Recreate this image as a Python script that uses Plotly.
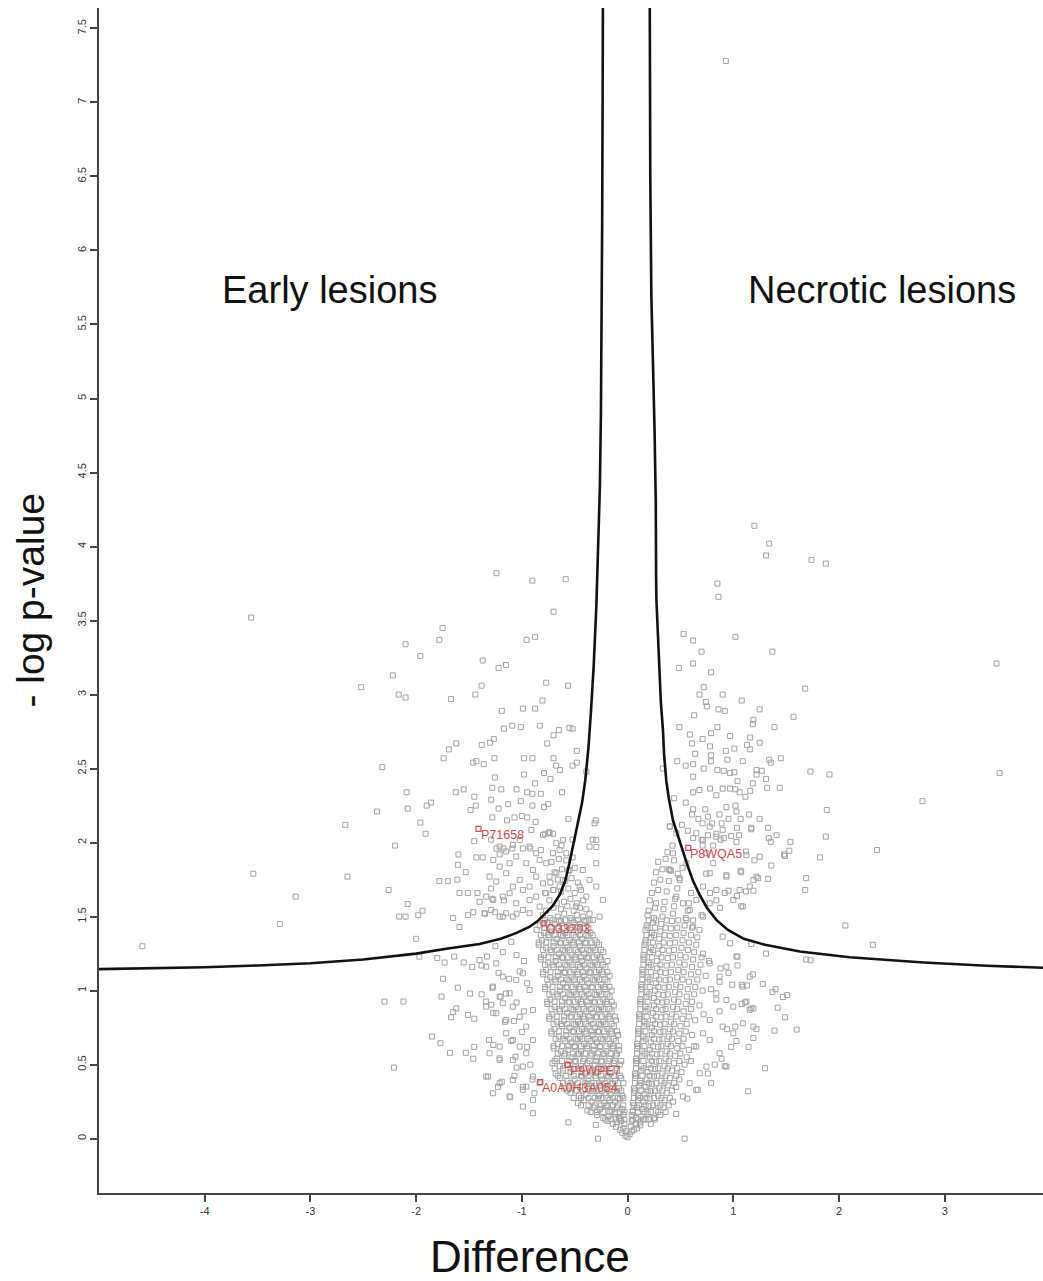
import plotly.graph_objects as go

# ---------------- threshold curves ----------------
curve_left_x = [-5.0, -4.5, -4.0, -3.5, -3.0, -2.5, -2.0, -1.7, -1.4, -1.2, -1.05, -0.93, -0.85,
                -0.78, -0.71, -0.64, -0.59, -0.55, -0.51, -0.47, -0.43, -0.40, -0.37, -0.345,
                -0.32, -0.295, -0.275, -0.262, -0.252, -0.245, -0.240, -0.236, -0.233]
curve_left_y = [1.145, 1.15, 1.158, 1.17, 1.185, 1.21, 1.25, 1.285, 1.315, 1.35, 1.39, 1.43, 1.47,
                1.52, 1.57, 1.65, 1.74, 1.86, 1.99, 2.12, 2.27, 2.42, 2.64, 2.9,
                3.2, 3.6, 4.0, 4.4, 4.9, 5.5, 6.2, 7.0, 7.7]
curve_right_x = [3.93, 3.4, 2.8, 2.1, 1.63, 1.3, 1.1, 0.95, 0.84, 0.75, 0.68, 0.62, 0.57, 0.53,
                 0.48, 0.43, 0.39, 0.366, 0.345, 0.335, 0.315, 0.305, 0.285, 0.273, 0.27,
                 0.267, 0.255, 0.24, 0.225, 0.215, 0.21]
curve_right_y = [1.155, 1.168, 1.19, 1.226, 1.264, 1.31, 1.35, 1.41, 1.478, 1.56, 1.65, 1.74, 1.84, 1.93,
                 2.04, 2.15, 2.3, 2.42, 2.6, 2.76, 2.95, 3.1, 3.4, 3.64, 3.8,
                 4.3, 4.8, 5.2, 5.7, 6.5, 7.7]

# ---------------- proteins (difference, -log p) ----------------
outlier_pts = [(-4.59, 1.30), (-3.54, 1.79), (-3.14, 1.635), (-3.29, 1.45), (-2.65, 1.77), (-3.56, 3.52),
               (-2.52, 3.05), (-2.67, 2.12), (0.93, 7.28), (3.49, 3.21), (3.52, 2.47), (2.79, 2.28),
               (2.36, 1.95), (2.32, 1.31), (2.06, 1.44), (1.20, 4.14), (1.34, 4.02), (1.31, 3.94),
               (1.74, 3.91), (1.875, 3.885)]

left_wing_pts = [
    (-1.24, 3.82), (-0.90, 3.77), (-0.585, 3.78), (-0.70, 3.56), (-1.75, 3.45), (-2.10, 3.34), (-1.78, 3.37),
    (-1.96, 3.26), (-0.955, 3.37), (-0.875, 3.39), (-1.37, 3.23), (-1.22, 3.18), (-1.15, 3.20), (-2.22, 3.13),
    (-2.165, 3.00), (-2.10, 2.98), (-1.67, 2.97), (-1.38, 3.06), (-1.44, 3.00), (-0.77, 3.08), (-0.563, 3.06),
    (-0.805, 2.96), (-1.19, 2.89), (-0.99, 2.905), (-0.875, 2.905), (-1.17, 2.77), (-1.09, 2.79), (-1.01, 2.78),
    (-0.83, 2.79), (-0.70, 2.725), (-0.65, 2.76), (-0.55, 2.775), (-0.52, 2.77), (-0.76, 2.67), (-0.48, 2.62),
    (-1.62, 2.67), (-1.69, 2.63), (-1.74, 2.57), (-1.38, 2.66), (-1.30, 2.675), (-1.265, 2.70), (-2.32, 2.51),
    (-1.46, 2.54), (-1.43, 2.55), (-1.36, 2.53), (-1.26, 2.57), (-0.98, 2.57), (-0.90, 2.57), (-0.70, 2.57),
    (-0.675, 2.52), (-0.64, 2.49), (-0.52, 2.52), (-0.48, 2.54), (-0.39, 2.48), (-0.79, 2.47), (-0.73, 2.43),
    (-1.255, 2.44), (-0.98, 2.46), (-0.875, 2.40),
    (-2.09, 2.34), (-1.625, 2.34), (-1.55, 2.36), (-1.45, 2.31), (-1.28, 2.37), (-1.195, 2.36), (-1.05, 2.36),
    (-0.95, 2.34), (-0.90, 2.33), (-0.82, 2.33), (-0.62, 2.34),
    (-2.08, 2.23), (-1.90, 2.25), (-1.86, 2.27), (-1.485, 2.22), (-1.435, 2.25), (-1.29, 2.29), (-1.22, 2.23),
    (-1.13, 2.26), (-1.01, 2.28), (-0.90, 2.25), (-0.79, 2.24), (-0.75, 2.26), (-2.37, 2.21),
    (-1.96, 2.135), (-1.28, 2.17), (-1.14, 2.15), (-1.07, 2.17), (-1.00, 2.18), (-0.95, 2.17), (-0.87, 2.14),
    (-0.56, 2.16), (-0.30, 2.15),
    (-1.91, 2.06), (-2.20, 1.98), (-1.45, 2.01), (-1.29, 2.02), (-0.91, 2.085), (-0.78, 2.06), (-0.74, 2.07),
    (-0.705, 2.06), (-0.625, 1.98), (-0.52, 2.02), (-0.33, 2.02), (-0.295, 1.97),
    (-1.24, 1.96), (-1.175, 1.96), (-1.09, 1.96), (-0.99, 1.96), (-0.92, 1.96), (-0.82, 1.95), (-1.60, 1.92),
    (-1.43, 1.90), (-1.37, 1.90), (-1.21, 1.92),
    (-1.605, 1.85), (-1.53, 1.80), (-1.78, 1.74), (-1.70, 1.74), (-1.61, 1.75),
    (-2.26, 1.68), (-1.59, 1.66), (-1.51, 1.66), (-1.42, 1.66), (-1.40, 1.60), (-1.46, 1.53), (-1.29, 1.69),
    (-1.28, 1.62), (-1.17, 1.61),
    (-2.08, 1.585), (-2.16, 1.50), (-2.10, 1.50), (-1.98, 1.51), (-1.94, 1.54), (-1.65, 1.49), (-2.0, 1.35),
    (-1.59, 1.43), (-1.51, 1.51), (-1.35, 1.52), (-1.255, 1.53), (-1.18, 1.50), (-1.05, 1.52),
    (-1.21, 1.973), (-1.148, 1.94), (-1.085, 1.985), (-1.02, 2.018), (-0.927, 1.973), (-0.864, 1.928),
    (-0.80, 2.052), (-0.738, 2.063), (-0.674, 1.996), (-0.61, 2.018), (-1.27, 1.883), (-1.21, 1.838),
    (-1.116, 1.861), (-1.053, 1.906), (-0.958, 1.861), (-0.895, 1.815), (-0.832, 1.883), (-0.769, 1.861),
    (-0.706, 1.928), (-0.643, 1.95), (-0.58, 1.928), (-1.305, 1.77), (-1.242, 1.737), (-1.148, 1.793),
    (-1.085, 1.703), (-1.02, 1.748), (-0.927, 1.703), (-0.864, 1.77), (-0.80, 1.725), (-0.738, 1.77),
    (-0.674, 1.793), (-0.61, 1.748), (-0.549, 1.815), (-1.337, 1.635), (-1.27, 1.613), (-1.18, 1.635),
    (-1.116, 1.658), (-1.053, 1.59), (-0.99, 1.68), (-0.927, 1.613), (-0.864, 1.635), (-0.769, 1.658),
    (-0.706, 1.68), (-0.643, 1.703), (-1.353, 1.523), (-1.29, 1.545), (-1.21, 1.50), (-1.148, 1.523),
    (-1.085, 1.50), (-0.99, 1.545), (-0.927, 1.523), (-0.832, 1.568),
    (-0.312, 2.131), (-0.296, 2.018), (-0.36, 1.973), (-0.296, 1.861), (-0.423, 1.815), (-0.36, 1.748),
    (-0.296, 1.703), (-0.233, 1.613), (-0.39, 1.635), (-0.454, 1.703), (-0.486, 1.568), (-0.265, 1.50),
    (-0.328, 1.478),
]

left_low_pts = [
    (-1.97, 1.23), (-1.80, 1.22), (-1.73, 1.19), (-1.64, 1.23), (-1.55, 1.19), (-1.47, 1.16), (-1.38, 1.17),
    (-1.33, 1.23), (-1.745, 1.08), (-1.605, 1.02), (-1.49, 0.98), (-1.38, 0.975), (-1.34, 0.926), (-1.29, 0.905),
    (-2.30, 0.926), (-2.12, 0.926), (-1.76, 0.96), (-1.65, 0.856), (-1.62, 0.88), (-1.67, 0.82), (-1.51, 0.836),
    (-1.45, 0.81), (-1.27, 0.85), (-1.20, 0.96), (-1.18, 0.915), (-1.16, 0.79), (-1.075, 0.795), (-1.85, 0.69),
    (-1.77, 0.645), (-1.68, 0.58), (-1.53, 0.58), (-1.45, 0.62), (-1.46, 0.54), (-2.21, 0.48), (-1.31, 0.667),
    (-1.27, 0.633), (-1.21, 0.543), (-1.32, 0.42), (-1.19, 0.385), (-1.225, 0.35), (-1.11, 0.28), (-1.06, 0.554),
    (-1.07, 0.424), (-0.99, 0.35), (-0.88, 0.307),
    (-1.25, 1.30), (-1.18, 1.26), (-1.10, 1.33), (-1.05, 1.24), (-0.98, 1.20), (-1.22, 1.12), (-1.12, 1.08),
    (-1.02, 1.13), (-0.95, 1.05), (-1.28, 1.02), (-1.15, 0.98), (-1.05, 0.92), (-0.98, 0.86), (-1.0, 0.72),
    (-0.95, 0.62), (-1.10, 0.66), (-0.92, 0.50), (-0.90, 0.40), (-1.05, 0.48),
    (-1.40, 1.207), (-1.337, 1.162), (-1.242, 1.185), (-1.18, 1.095), (-1.274, 1.027), (-1.21, 0.959),
    (-1.116, 0.982), (-1.053, 1.072), (-0.99, 1.117), (-0.927, 1.005), (-1.337, 0.892), (-1.242, 0.847),
    (-1.148, 0.802), (-1.085, 0.892), (-1.02, 0.824), (-0.958, 0.757), (-0.895, 0.869), (-1.148, 0.712),
    (-1.085, 0.667), (-1.21, 0.622), (-1.02, 0.622), (-0.958, 0.577), (-0.895, 0.667), (-1.305, 0.577),
    (-1.21, 0.532), (-1.085, 0.532), (-0.99, 0.487), (-1.337, 0.42), (-1.21, 0.375), (-1.085, 0.397),
    (-0.958, 0.352), (-1.274, 0.307), (-1.116, 0.285), (-0.99, 0.33), (-0.895, 0.42), (-0.832, 0.375),
    (-0.895, 0.262), (-0.99, 0.217), (-0.895, 0.172),
    (-0.56, 0.11), (-0.28, 0.0), (-0.30, 0.093),
]

right_wing_pts = [
    (0.85, 3.75), (0.86, 3.66), (0.53, 3.41), (0.62, 3.365), (1.02, 3.39), (0.70, 3.29), (1.37, 3.29),
    (0.485, 3.18), (0.62, 3.21), (0.79, 3.15), (0.72, 3.05), (0.68, 3.0), (0.90, 3.0), (1.68, 3.04),
    (0.74, 2.95), (0.75, 2.92), (1.08, 2.96), (0.86, 2.90), (0.92, 2.89), (1.25, 2.90), (0.63, 2.86),
    (1.19, 2.83), (1.185, 2.80), (1.57, 2.85), (0.49, 2.78), (0.85, 2.78), (1.39, 2.78), (0.79, 2.74),
    (0.59, 2.73), (0.71, 2.70), (0.97, 2.72), (0.61, 2.67), (0.78, 2.65), (1.16, 2.71), (1.25, 2.675),
    (1.13, 2.66), (1.16, 2.63), (1.01, 2.635), (0.93, 2.62), (0.64, 2.60), (0.79, 2.59), (0.47, 2.55),
    (0.55, 2.52), (0.62, 2.53), (0.79, 2.55), (0.945, 2.56), (1.09, 2.55), (1.45, 2.57), (1.34, 2.56),
    (1.355, 2.54), (0.333, 2.50), (0.72, 2.50), (0.85, 2.49), (0.91, 2.485), (0.97, 2.47), (1.01, 2.475),
    (1.22, 2.49), (1.27, 2.485), (1.22, 2.46), (0.62, 2.445), (1.04, 2.415), (1.31, 2.43), (1.73, 2.48),
    (1.91, 2.46), (1.185, 2.40), (0.62, 2.34), (0.68, 2.355), (0.78, 2.365), (0.84, 2.32), (0.90, 2.365),
    (0.97, 2.365), (1.02, 2.36), (1.06, 2.34), (1.115, 2.31), (1.16, 2.35), (1.32, 2.37), (1.44, 2.37),
    (0.44, 2.30), (0.55, 2.27), (0.62, 2.225), (0.735, 2.225), (0.935, 2.24), (1.02, 2.25), (0.61, 2.19),
    (0.67, 2.16), (0.76, 2.175), (0.87, 2.19), (0.955, 2.16), (1.03, 2.21), (1.07, 2.16), (1.15, 2.19),
    (1.25, 2.16), (1.885, 2.22), (0.40, 2.11), (0.515, 2.12), (0.57, 2.08), (0.71, 2.13), (0.80, 2.13),
    (0.89, 2.13), (1.035, 2.10), (1.17, 2.10), (1.33, 2.10), (0.62, 2.03), (0.70, 2.02), (0.76, 2.05),
    (0.84, 2.06), (0.91, 2.03), (0.98, 2.045), (1.055, 2.05), (1.336, 2.03), (1.41, 2.05), (1.54, 2.005),
    (1.875, 2.04), (0.425, 1.98), (0.71, 1.98), (0.81, 1.98), (0.88, 2.02), (1.03, 2.005), (1.355, 2.005),
    (0.377, 1.935), (1.12, 1.94), (1.25, 1.905), (1.49, 1.91), (1.53, 1.945), (1.82, 1.90), (1.36, 1.845),
    (0.39, 1.82), (0.745, 1.79), (0.935, 1.78), (1.075, 1.80), (1.22, 1.77), (1.69, 1.76), (0.475, 1.79),
    (1.17, 2.09), (1.48, 1.92), (1.33, 1.755), (1.235, 1.76), (1.20, 1.88), (1.125, 1.915), (1.07, 1.81),
    (1.19, 1.675), (1.12, 1.67), (1.035, 1.64), (1.075, 1.57), (0.955, 1.675), (0.92, 1.66), (0.84, 1.61),
    (0.78, 1.66), (0.875, 1.56), (1.68, 1.68),
    (0.399, 2.108), (0.462, 2.063), (0.43, 1.928), (0.399, 1.815), (0.494, 1.748), (0.557, 1.861),
    (0.651, 2.063), (0.714, 2.018), (0.777, 2.108), (0.84, 2.04), (0.90, 2.086), (0.746, 1.928),
    (0.81, 1.861), (0.777, 1.793), (0.714, 1.703), (0.84, 1.68), (0.935, 1.77), (0.651, 1.613),
    (0.588, 1.545), (0.525, 1.59), (0.462, 1.635), (0.557, 1.478), (0.62, 1.433), (0.714, 1.50),
    (0.777, 1.59), (1.0, 1.613), (1.06, 1.68), (1.156, 1.703), (1.19, 1.748), (1.09, 1.568),
]

right_low_pts = [
    (1.69, 1.21), (1.73, 1.205), (1.31, 1.25), (1.17, 1.315), (1.04, 1.23), (1.04, 1.17), (1.185, 1.11),
    (1.28, 1.045), (1.37, 0.99), (1.40, 1.01), (1.47, 0.957), (1.51, 0.97), (1.42, 0.885), (1.49, 0.82),
    (1.39, 0.73), (1.60, 0.737), (1.22, 0.74), (1.19, 0.68), (1.30, 0.476), (1.14, 0.32), (0.54, 0.0),
    (1.17, 0.88), (1.11, 0.92), (1.08, 0.91), (1.19, 0.88), (1.155, 0.87), (1.02, 0.757), (1.03, 0.66),
    (0.98, 0.62), (1.145, 0.62), (0.94, 0.74), (0.89, 0.54), (0.92, 0.49), (0.825, 0.50), (0.79, 0.375),
    (0.76, 0.44), (0.665, 0.33), (0.565, 0.27), (0.46, 0.167), (0.99, 1.04), (1.08, 1.04), (1.13, 1.035),
    (0.955, 1.12), (0.87, 1.06), (0.88, 1.15), (0.79, 1.01), (0.84, 0.94), (0.87, 0.86), (0.72, 0.84),
    (0.90, 1.365), (0.97, 1.32), (1.03, 1.23), (0.935, 1.162), (0.87, 1.095), (0.777, 1.185), (0.714, 1.25),
    (1.09, 1.027), (1.156, 1.095), (0.84, 0.982), (0.935, 0.937), (1.0, 0.892), (1.125, 0.926), (1.19, 0.757),
    (1.09, 0.779), (1.0, 0.712), (0.90, 0.757), (0.777, 0.802), (0.714, 0.712), (0.65, 0.622), (0.777, 0.667),
    (0.87, 0.577), (0.935, 0.487), (0.746, 0.487), (0.683, 0.442), (0.588, 0.375), (0.65, 0.33), (0.525, 0.285),
]

core_left_pts = [
    (-0.05, 0.04), (-0.02, 0.02), (0.0, 0.01),
    (-0.11, 0.08), (-0.07, 0.06), (-0.04, 0.07), (-0.015, 0.05),
    (-0.19, 0.12), (-0.14, 0.10), (-0.10, 0.11), (-0.06, 0.12), (-0.03, 0.10),
    (-0.29, 0.16), (-0.23, 0.14), (-0.18, 0.15), (-0.12, 0.17), (-0.08, 0.14), (-0.04, 0.16),
    (-0.38, 0.19), (-0.32, 0.21), (-0.26, 0.20), (-0.20, 0.22), (-0.15, 0.19), (-0.10, 0.21), (-0.05, 0.20),
    (-0.47, 0.24), (-0.41, 0.26), (-0.34, 0.25), (-0.28, 0.27), (-0.22, 0.24), (-0.17, 0.26), (-0.12, 0.25), (-0.07, 0.27),
    (-0.54, 0.31), (-0.46, 0.29), (-0.39, 0.30), (-0.33, 0.32), (-0.27, 0.29), (-0.21, 0.31), (-0.16, 0.30), (-0.10, 0.32), (-0.05, 0.29),
    (-0.60, 0.34), (-0.52, 0.36), (-0.45, 0.35), (-0.38, 0.37), (-0.32, 0.34), (-0.26, 0.36), (-0.20, 0.35), (-0.14, 0.37), (-0.08, 0.34),
    (-0.64, 0.41), (-0.57, 0.39), (-0.50, 0.40), (-0.43, 0.42), (-0.37, 0.39), (-0.30, 0.41), (-0.24, 0.40), (-0.18, 0.42), (-0.12, 0.39), (-0.06, 0.41),
    (-0.68, 0.44), (-0.61, 0.46), (-0.54, 0.45), (-0.47, 0.47), (-0.40, 0.44), (-0.34, 0.46), (-0.28, 0.45), (-0.22, 0.47), (-0.16, 0.44), (-0.10, 0.46),
    (-0.71, 0.51), (-0.64, 0.49), (-0.57, 0.50), (-0.50, 0.52), (-0.44, 0.49), (-0.38, 0.51), (-0.31, 0.50), (-0.25, 0.52), (-0.19, 0.49), (-0.13, 0.51), (-0.07, 0.50),
    (-0.67, 0.54), (-0.60, 0.56), (-0.53, 0.55), (-0.47, 0.57), (-0.41, 0.54), (-0.35, 0.56), (-0.29, 0.55), (-0.23, 0.57), (-0.17, 0.54), (-0.11, 0.56),
    (-0.70, 0.61), (-0.63, 0.59), (-0.56, 0.60), (-0.50, 0.62), (-0.44, 0.59), (-0.38, 0.61), (-0.32, 0.60), (-0.26, 0.62), (-0.20, 0.59), (-0.14, 0.61), (-0.08, 0.60),
    (-0.66, 0.64), (-0.59, 0.66), (-0.53, 0.65), (-0.47, 0.67), (-0.41, 0.64), (-0.35, 0.66), (-0.29, 0.65), (-0.23, 0.67), (-0.17, 0.64), (-0.11, 0.66),
    (-0.72, 0.71), (-0.65, 0.69), (-0.58, 0.70), (-0.51, 0.72), (-0.45, 0.69), (-0.39, 0.71), (-0.33, 0.70), (-0.27, 0.72), (-0.21, 0.69), (-0.15, 0.71), (-0.09, 0.70),
    (-0.69, 0.74), (-0.62, 0.76), (-0.55, 0.75), (-0.49, 0.77), (-0.43, 0.74), (-0.37, 0.76), (-0.31, 0.75), (-0.25, 0.77), (-0.19, 0.74), (-0.13, 0.76),
    (-0.74, 0.81), (-0.67, 0.79), (-0.60, 0.80), (-0.53, 0.82), (-0.47, 0.79), (-0.41, 0.81), (-0.35, 0.80), (-0.29, 0.82), (-0.23, 0.79), (-0.17, 0.81), (-0.11, 0.80),
    (-0.71, 0.84), (-0.64, 0.86), (-0.57, 0.85), (-0.51, 0.87), (-0.45, 0.84), (-0.39, 0.86), (-0.33, 0.85), (-0.27, 0.87), (-0.21, 0.84), (-0.15, 0.86),
    (-0.76, 0.91), (-0.69, 0.89), (-0.62, 0.90), (-0.55, 0.92), (-0.49, 0.89), (-0.43, 0.91), (-0.37, 0.90), (-0.31, 0.92), (-0.25, 0.89), (-0.19, 0.91), (-0.13, 0.90),
    (-0.73, 0.94), (-0.66, 0.96), (-0.59, 0.95), (-0.53, 0.97), (-0.47, 0.94), (-0.41, 0.96), (-0.35, 0.95), (-0.29, 0.97), (-0.23, 0.94), (-0.17, 0.96),
    (-0.78, 1.01), (-0.71, 0.99), (-0.64, 1.00), (-0.57, 1.02), (-0.51, 0.99), (-0.45, 1.01), (-0.39, 1.00), (-0.33, 1.02), (-0.27, 0.99), (-0.21, 1.01), (-0.15, 1.00),
    (-0.75, 1.04), (-0.68, 1.06), (-0.61, 1.05), (-0.55, 1.07), (-0.49, 1.04), (-0.43, 1.06), (-0.37, 1.05), (-0.31, 1.07), (-0.25, 1.04), (-0.19, 1.06),
    (-0.80, 1.11), (-0.73, 1.09), (-0.66, 1.10), (-0.59, 1.12), (-0.53, 1.09), (-0.47, 1.11), (-0.41, 1.10), (-0.35, 1.12), (-0.29, 1.09), (-0.23, 1.11), (-0.17, 1.10),
    (-0.77, 1.14), (-0.70, 1.16), (-0.63, 1.15), (-0.57, 1.17), (-0.51, 1.14), (-0.45, 1.16), (-0.39, 1.15), (-0.33, 1.17), (-0.27, 1.14), (-0.21, 1.16),
    (-0.82, 1.21), (-0.75, 1.19), (-0.68, 1.20), (-0.61, 1.22), (-0.55, 1.19), (-0.49, 1.21), (-0.43, 1.20), (-0.37, 1.22), (-0.31, 1.19), (-0.25, 1.21), (-0.19, 1.20),
    (-0.79, 1.24), (-0.72, 1.26), (-0.65, 1.25), (-0.59, 1.27), (-0.53, 1.24), (-0.47, 1.26), (-0.41, 1.25), (-0.35, 1.27), (-0.29, 1.24), (-0.23, 1.26),
    (-0.84, 1.31), (-0.77, 1.29), (-0.70, 1.30), (-0.63, 1.32), (-0.57, 1.29), (-0.51, 1.31), (-0.45, 1.30), (-0.39, 1.32), (-0.33, 1.29), (-0.27, 1.31),
    (-0.81, 1.34), (-0.74, 1.36), (-0.67, 1.35), (-0.61, 1.37), (-0.55, 1.34), (-0.49, 1.36), (-0.43, 1.35), (-0.37, 1.37), (-0.31, 1.34),
    (-0.86, 1.41), (-0.79, 1.39), (-0.72, 1.40), (-0.65, 1.42), (-0.59, 1.39), (-0.53, 1.41), (-0.47, 1.40), (-0.41, 1.42), (-0.35, 1.39),
    (-0.83, 1.44), (-0.76, 1.46), (-0.69, 1.45), (-0.63, 1.47), (-0.57, 1.44), (-0.51, 1.46), (-0.45, 1.45), (-0.39, 1.47),
    (-0.80, 1.51), (-0.73, 1.49), (-0.66, 1.50), (-0.60, 1.52), (-0.54, 1.49), (-0.48, 1.51), (-0.42, 1.50), (-0.36, 1.52),
    (-0.77, 1.54), (-0.70, 1.56), (-0.63, 1.55), (-0.57, 1.57), (-0.51, 1.54), (-0.45, 1.56), (-0.39, 1.55),
    (-0.74, 1.61), (-0.67, 1.59), (-0.60, 1.60), (-0.54, 1.62), (-0.48, 1.59), (-0.42, 1.61),
    (-0.78, 1.66), (-0.70, 1.68), (-0.63, 1.67), (-0.56, 1.69), (-0.50, 1.66), (-0.44, 1.68),
    (-0.73, 1.73), (-0.66, 1.75), (-0.59, 1.74), (-0.53, 1.76), (-0.47, 1.73),
    (-0.69, 1.80), (-0.62, 1.82), (-0.56, 1.81), (-0.50, 1.83),
    (-0.72, 1.87), (-0.65, 1.89), (-0.58, 1.88), (-0.52, 1.90),
]

core_right_pts = [
    (0.02, 0.03), (0.04, 0.05),
    (0.03, 0.08), (0.06, 0.06), (0.09, 0.07), (0.12, 0.09),
    (0.04, 0.12), (0.08, 0.10), (0.12, 0.11), (0.17, 0.13), (0.22, 0.10),
    (0.04, 0.16), (0.08, 0.14), (0.13, 0.15), (0.19, 0.17), (0.25, 0.14), (0.31, 0.16),
    (0.05, 0.19), (0.09, 0.21), (0.14, 0.20), (0.20, 0.22), (0.27, 0.19), (0.34, 0.21),
    (0.05, 0.24), (0.10, 0.26), (0.15, 0.25), (0.21, 0.27), (0.28, 0.24), (0.35, 0.26), (0.43, 0.25),
    (0.06, 0.31), (0.10, 0.29), (0.16, 0.30), (0.22, 0.32), (0.29, 0.29), (0.37, 0.31),
    (0.06, 0.34), (0.11, 0.36), (0.17, 0.35), (0.23, 0.37), (0.30, 0.34), (0.38, 0.36), (0.46, 0.35),
    (0.07, 0.41), (0.12, 0.39), (0.18, 0.40), (0.25, 0.42), (0.32, 0.39), (0.40, 0.41), (0.49, 0.40),
    (0.07, 0.44), (0.13, 0.46), (0.19, 0.45), (0.26, 0.47), (0.33, 0.44), (0.42, 0.46), (0.51, 0.45),
    (0.08, 0.51), (0.13, 0.49), (0.20, 0.50), (0.27, 0.52), (0.35, 0.49), (0.44, 0.51), (0.54, 0.50),
    (0.08, 0.54), (0.14, 0.56), (0.21, 0.55), (0.28, 0.57), (0.36, 0.54), (0.45, 0.56), (0.56, 0.55),
    (0.09, 0.61), (0.14, 0.59), (0.21, 0.60), (0.29, 0.62), (0.37, 0.59), (0.47, 0.61), (0.58, 0.60),
    (0.09, 0.64), (0.15, 0.66), (0.22, 0.65), (0.30, 0.67), (0.38, 0.64), (0.48, 0.66),
    (0.10, 0.71), (0.15, 0.69), (0.23, 0.70), (0.31, 0.72), (0.39, 0.69), (0.49, 0.71), (0.61, 0.70),
    (0.10, 0.74), (0.16, 0.76), (0.23, 0.75), (0.31, 0.77), (0.40, 0.74), (0.50, 0.76),
    (0.11, 0.81), (0.16, 0.79), (0.24, 0.80), (0.32, 0.82), (0.41, 0.79), (0.52, 0.81), (0.64, 0.80),
    (0.11, 0.84), (0.17, 0.86), (0.24, 0.85), (0.33, 0.87), (0.42, 0.84), (0.53, 0.86),
    (0.12, 0.91), (0.17, 0.89), (0.25, 0.90), (0.33, 0.92), (0.43, 0.89), (0.55, 0.91), (0.68, 0.90),
    (0.12, 0.94), (0.18, 0.96), (0.25, 0.95), (0.34, 0.97), (0.44, 0.94), (0.56, 0.96),
    (0.13, 1.01), (0.18, 0.99), (0.26, 1.00), (0.35, 1.02), (0.45, 0.99), (0.57, 1.01), (0.71, 1.00),
    (0.13, 1.04), (0.19, 1.06), (0.27, 1.05), (0.36, 1.07), (0.46, 1.04), (0.58, 1.06),
    (0.14, 1.11), (0.19, 1.09), (0.27, 1.10), (0.36, 1.12), (0.47, 1.09), (0.60, 1.11), (0.74, 1.10),
    (0.14, 1.14), (0.20, 1.16), (0.28, 1.15), (0.37, 1.17), (0.48, 1.14), (0.61, 1.16),
    (0.15, 1.21), (0.20, 1.19), (0.28, 1.20), (0.38, 1.22), (0.49, 1.19), (0.62, 1.21), (0.77, 1.20),
    (0.15, 1.24), (0.21, 1.26), (0.29, 1.25), (0.39, 1.27), (0.50, 1.24), (0.63, 1.26),
    (0.16, 1.31), (0.22, 1.29), (0.30, 1.30), (0.40, 1.32), (0.51, 1.29), (0.65, 1.31),
    (0.17, 1.34), (0.22, 1.36), (0.30, 1.35), (0.40, 1.37), (0.52, 1.34), (0.66, 1.36),
    (0.17, 1.41), (0.23, 1.39), (0.31, 1.40), (0.41, 1.42), (0.53, 1.39), (0.68, 1.41),
    (0.18, 1.44), (0.24, 1.46), (0.32, 1.45), (0.42, 1.47), (0.54, 1.44),
    (0.19, 1.51), (0.25, 1.49), (0.33, 1.50), (0.43, 1.52), (0.55, 1.49), (0.70, 1.51),
    (0.20, 1.54), (0.26, 1.56), (0.34, 1.55), (0.44, 1.57), (0.57, 1.54),
    (0.21, 1.61), (0.27, 1.59), (0.35, 1.60), (0.45, 1.62), (0.58, 1.59),
    (0.23, 1.66), (0.29, 1.68), (0.37, 1.67), (0.47, 1.69), (0.60, 1.66),
    (0.25, 1.73), (0.31, 1.75), (0.39, 1.74), (0.49, 1.76),
    (0.27, 1.80), (0.33, 1.82), (0.41, 1.81), (0.52, 1.83),
    (0.29, 1.87), (0.36, 1.89), (0.44, 1.88),
]

# extra proteins filling the dense core, listed row by row (-log p of the row, differences in it)
fill_left_row_y = [0.13, 0.18, 0.225, 0.275, 0.325, 0.375, 0.425, 0.475, 0.525, 0.575, 0.625, 0.675,
                   0.725, 0.775, 0.825, 0.875, 0.925, 0.975, 1.025, 1.075, 1.125, 1.175, 1.225, 1.275,
                   1.325, 1.375, 1.425, 1.475]
fill_left_row_x = [
    [-0.21, -0.16, -0.11, -0.07, -0.03],
    [-0.35, -0.29, -0.23, -0.17, -0.12, -0.07, -0.03],
    [-0.44, -0.37, -0.31, -0.25, -0.19, -0.14, -0.09, -0.04],
    [-0.51, -0.44, -0.37, -0.31, -0.25, -0.19, -0.14, -0.09, -0.04],
    [-0.57, -0.49, -0.42, -0.36, -0.30, -0.24, -0.18, -0.12, -0.06],
    [-0.61, -0.54, -0.47, -0.40, -0.34, -0.27, -0.21, -0.15, -0.09, -0.04],
    [-0.66, -0.58, -0.51, -0.44, -0.37, -0.31, -0.25, -0.19, -0.13, -0.07],
    [-0.69, -0.61, -0.54, -0.47, -0.41, -0.35, -0.28, -0.22, -0.16, -0.10],
    [-0.69, -0.62, -0.55, -0.49, -0.42, -0.36, -0.30, -0.24, -0.18, -0.12, -0.06],
    [-0.66, -0.59, -0.52, -0.46, -0.40, -0.34, -0.28, -0.22, -0.16, -0.10],
    [-0.70, -0.62, -0.56, -0.50, -0.44, -0.38, -0.32, -0.26, -0.20, -0.14, -0.08],
    [-0.68, -0.61, -0.55, -0.49, -0.43, -0.37, -0.31, -0.25, -0.19, -0.13],
    [-0.72, -0.65, -0.58, -0.52, -0.46, -0.40, -0.34, -0.28, -0.22, -0.16, -0.10],
    [-0.70, -0.63, -0.57, -0.51, -0.45, -0.39, -0.33, -0.27, -0.21, -0.15],
    [-0.74, -0.67, -0.60, -0.54, -0.48, -0.42, -0.36, -0.30, -0.24, -0.18, -0.12],
    [-0.72, -0.65, -0.59, -0.53, -0.47, -0.41, -0.35, -0.29, -0.23, -0.17],
    [-0.76, -0.69, -0.62, -0.56, -0.50, -0.44, -0.38, -0.32, -0.26, -0.20, -0.15],
    [-0.74, -0.67, -0.61, -0.55, -0.49, -0.43, -0.37, -0.31, -0.25, -0.19],
    [-0.78, -0.71, -0.64, -0.58, -0.52, -0.46, -0.40, -0.34, -0.28, -0.22, -0.17],
    [-0.76, -0.69, -0.63, -0.57, -0.51, -0.45, -0.39, -0.33, -0.27, -0.21],
    [-0.80, -0.73, -0.66, -0.60, -0.54, -0.48, -0.42, -0.36, -0.30, -0.24, -0.19],
    [-0.78, -0.71, -0.65, -0.59, -0.53, -0.47, -0.41, -0.35, -0.29, -0.23],
    [-0.82, -0.75, -0.68, -0.62, -0.56, -0.50, -0.44, -0.38, -0.32, -0.26],
    [-0.80, -0.73, -0.67, -0.61, -0.55, -0.49, -0.43, -0.37, -0.31, -0.25],
    [-0.84, -0.77, -0.70, -0.64, -0.58, -0.52, -0.46, -0.40, -0.34, -0.29],
    [-0.82, -0.75, -0.69, -0.63, -0.57, -0.51, -0.45, -0.39, -0.33],
    [-0.79, -0.72, -0.66, -0.60, -0.54, -0.48, -0.42, -0.37],
    [-0.78, -0.71, -0.65, -0.59, -0.53, -0.47, -0.41, -0.36],
]
fill_right_row_y = [0.13, 0.18, 0.225, 0.275, 0.325, 0.375, 0.425, 0.475, 0.525, 0.575, 0.625, 0.675,
                    0.725, 0.775, 0.825, 0.875, 0.925, 0.975, 1.025, 1.075, 1.125, 1.175, 1.225, 1.275,
                    1.325, 1.375, 1.425, 1.475]
fill_right_row_x = [
    [0.05, 0.10, 0.15, 0.20, 0.26],
    [0.05, 0.10, 0.16, 0.22, 0.29, 0.36],
    [0.06, 0.11, 0.17, 0.24, 0.31, 0.39],
    [0.06, 0.12, 0.18, 0.25, 0.32, 0.40],
    [0.07, 0.13, 0.19, 0.26, 0.33, 0.42],
    [0.07, 0.13, 0.20, 0.27, 0.35, 0.44],
    [0.08, 0.14, 0.21, 0.28, 0.36, 0.46],
    [0.08, 0.15, 0.22, 0.29, 0.38, 0.47],
    [0.09, 0.15, 0.23, 0.30, 0.39, 0.49, 0.60],
    [0.09, 0.16, 0.23, 0.31, 0.40, 0.50],
    [0.10, 0.16, 0.24, 0.32, 0.41, 0.52, 0.63],
    [0.10, 0.17, 0.25, 0.33, 0.42, 0.53],
    [0.11, 0.17, 0.25, 0.34, 0.43, 0.55],
    [0.11, 0.18, 0.26, 0.35, 0.44, 0.56],
    [0.12, 0.18, 0.27, 0.36, 0.46, 0.58],
    [0.12, 0.19, 0.27, 0.36, 0.47, 0.60],
    [0.13, 0.19, 0.28, 0.37, 0.48, 0.61],
    [0.13, 0.20, 0.29, 0.38, 0.49, 0.63],
    [0.14, 0.21, 0.29, 0.39, 0.50, 0.64],
    [0.14, 0.21, 0.30, 0.40, 0.52, 0.66],
    [0.15, 0.22, 0.31, 0.41, 0.53, 0.67],
    [0.15, 0.22, 0.31, 0.42, 0.54, 0.69],
    [0.16, 0.23, 0.32, 0.43, 0.55, 0.70],
    [0.16, 0.24, 0.33, 0.44, 0.57],
    [0.17, 0.24, 0.34, 0.45, 0.58],
    [0.18, 0.25, 0.35, 0.46, 0.60],
    [0.19, 0.26, 0.36, 0.47, 0.61],
    [0.20, 0.27, 0.37, 0.48, 0.62],
]

label_names = ["P71658", "O33203", "P9WPE7", "A0A0H3A054", "P8WQA5"]
label_x = [-1.41, -0.795, -0.565, -0.826, 0.574]
label_y = [2.093, 1.455, 0.498, 0.383, 1.964]

x_tick_vals = [-4, -3, -2, -1, 0, 1, 2, 3]
y_tick_vals = [0, 0.5, 1, 1.5, 2, 2.5, 3, 3.5, 4, 4.5, 5, 5.5, 6, 6.5, 7, 7.5]

# ---------------- figure ----------------
gray_pts = (outlier_pts + left_wing_pts + left_low_pts + right_wing_pts + right_low_pts
            + core_left_pts + core_right_pts)
gx = [p[0] for p in gray_pts]
gy = [p[1] for p in gray_pts]
for ry, rxs in zip(fill_left_row_y + fill_right_row_y, fill_left_row_x + fill_right_row_x):
    for rx in rxs:
        gx.append(rx)
        gy.append(ry)

FONT = "Liberation Sans, Arial, sans-serif"
GRAY = "#a3a3a3"
RED = "#d24a4a"

fig = go.Figure()
fig.add_trace(go.Scatter(
    x=gx, y=gy, mode="markers", showlegend=False, hoverinfo="skip",
    marker=dict(symbol="square-open", size=5, color=GRAY, line=dict(width=1, color=GRAY)),
))
fig.add_trace(go.Scatter(
    x=curve_left_x, y=curve_left_y, mode="lines", showlegend=False,
    line=dict(color="#111111", width=2.6),
))
fig.add_trace(go.Scatter(
    x=curve_right_x, y=curve_right_y, mode="lines", showlegend=False,
    line=dict(color="#111111", width=2.6),
))
fig.add_trace(go.Scatter(
    x=label_x, y=label_y, mode="markers", showlegend=False,
    marker=dict(symbol="square-open", size=5, color=RED, line=dict(width=1.2, color=RED)),
))

annotations = [
    dict(text="Early lesions", x=-2.82, y=5.73, xref="x", yref="y", showarrow=False,
         font=dict(family=FONT, size=38, color="#111111")),
    dict(text="Necrotic lesions", x=2.41, y=5.73, xref="x", yref="y", showarrow=False,
         font=dict(family=FONT, size=38, color="#111111")),
    dict(text="- log p-value", x=-0.073, y=0.5, xref="paper", yref="paper", showarrow=False,
         textangle=-90, xanchor="center", yanchor="middle",
         font=dict(family=FONT, size=39, color="#111111")),
    dict(text="Difference", x=0.4566, y=-0.054, xref="paper", yref="paper", showarrow=False,
         xanchor="center", yanchor="middle",
         font=dict(family=FONT, size=44, color="#111111")),
]
for name, lx, ly in zip(label_names, label_x, label_y):
    annotations.append(dict(text=name, x=lx, y=ly, xref="x", yref="y", showarrow=False,
                            xanchor="left", yanchor="top", xshift=1, yshift=2, borderpad=0,
                            font=dict(family=FONT, size=12.5, color=RED)))

fig.update_layout(
    width=1043, height=1281,
    margin=dict(l=99, r=0, t=8, b=88, autoexpand=False),
    paper_bgcolor="white", plot_bgcolor="white",
    font=dict(family=FONT, color="#222222"),
    xaxis=dict(
        range=[-5.0, 3.93], tickvals=x_tick_vals, ticktext=[str(v) for v in x_tick_vals],
        showgrid=False, zeroline=False, showline=True, linecolor="#444444", linewidth=2,
        ticks="outside", ticklen=7, tickwidth=1.5, tickcolor="#444444", automargin=False,
        tickfont=dict(family=FONT, size=11, color="#333333"),
    ),
    yaxis=dict(
        range=[-0.367, 7.638], tickvals=y_tick_vals, ticktext=[f"{v:g}" for v in y_tick_vals],
        showgrid=False, zeroline=False, showline=True, linecolor="#444444", linewidth=2,
        ticks="outside", ticklen=7, tickwidth=1.5, tickcolor="#444444", tickangle=-90,
        automargin=False, tickfont=dict(family=FONT, size=11, color="#333333"),
    ),
    annotations=annotations,
)

fig.write_html(
    "out.html",
    config={"displayModeBar": False},
    post_script="document.body.style.margin='0';document.body.style.padding='0';"
                "document.documentElement.style.overflow='hidden';",
)
